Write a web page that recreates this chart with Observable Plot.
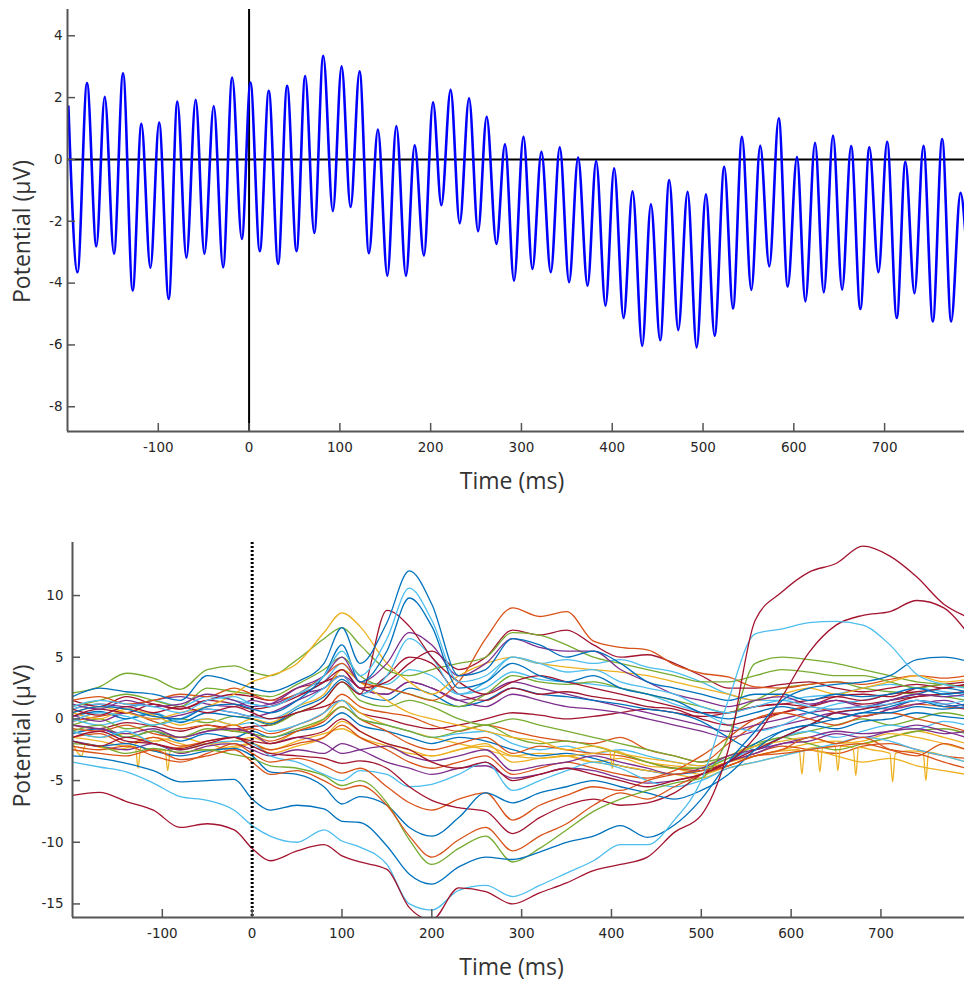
<!DOCTYPE html>
<html><head><meta charset="utf-8">
<script src="https://cdn.jsdelivr.net/npm/d3@7"></script>
<script src="https://cdn.jsdelivr.net/npm/@observablehq/plot@0.6"></script>
<style>
body{margin:0;background:#fff;}
#chart svg{display:block;}
</style>
</head><body><div id="chart"></div>
<script>
// ---------- TOP PANEL DATA (extrema of the averaged waveform) ----------
const topT = [-199,-189,-178.5,-168.2,-159,-148.8,-138.8,-128.2,-118.6,-108.7,-99.1,-88.5,-79,-69,-58.8,-49.2,-38.9,-28.6,-18.6,-8,
  1.5,11.8,21.7,32,41.9,52.3,61.8,71.8,81.7,92.3,101.9,111.8,121.7,132,141.9,152.3,162.2,172.8,182.4,192.6,
  202.6,211.8,222,232,242.3,252.2,261.7,272.4,281.9,291.8,302.2,312.1,322,332.3,342.2,352.5,362.4,372.8,382.3,392.6,
  402.1,412.5,422.4,433,442.6,452.8,462.8,472.7,483,493,503.2,512.8,523.4,533,542.9,553.2,563,573,583.4,593.3,
  603.5,612.7,623.4,633,643.2,653.2,663.1,673.3,683.2,693.2,702.8,713.4,722.9,732.9,742.8,753.1,763.4,773.3,783.6,790];
const topV = [1.71,-3.65,2.47,-2.81,2.03,-3.05,2.79,-4.24,1.15,-3.51,1.19,-4.51,1.87,-3.18,1.93,-3.05,1.73,-3.49,2.65,-2.57,
  2.49,-2.97,2.22,-3.38,2.38,-2.97,2.70,-2.38,3.35,-1.67,3.01,-1.54,2.85,-3.03,0.97,-3.76,1.08,-3.76,0.46,-3.11,
  1.85,-1.48,2.25,-2.06,1.98,-2.32,1.38,-2.73,0.49,-3.92,0.73,-3.54,0.25,-3.65,0.39,-3.97,0.06,-4.08,-0.05,-4.73,
  -0.29,-5.13,-1.03,-6.03,-1.45,-5.85,-0.67,-5.52,-1.05,-6.08,-1.13,-5.70,-0.24,-4.82,0.73,-4.22,0.44,-3.46,1.33,-4.11,
  0.08,-4.59,0.54,-4.30,0.77,-4.21,0.43,-4.84,0.39,-3.65,0.57,-5.13,-0.08,-4.33,0.44,-5.24,0.66,-5.24,-1.08,-2.8];
const topXTicks = [-100,0,100,200,300,400,500,600,700];
const topYTicks = [-8,-6,-4,-2,0,2,4];

// ---------- BOTTOM PANEL DATA (butterfly plot, one array per channel) ----------
const butterflyT = [-200,-170,-140,-110,-80,-50,-20,0,20,50,80,100,120,150,175,200,230,260,290,320,350,380,410,440,470,500,530,560,590,620,650,680,710,740,770,795];
const chR1  = [-6.2,-5.95,-6.7,-7.4,-8.8,-8.5,-9.0,-10.5,-11.5,-10.7,-10.2,-11.1,-11.6,-12.2,-15.3,-16.3,-13.7,-14.0,-15.0,-14.1,-13.3,-12.3,-11.8,-11.2,-9.2,-7.8,-2.5,8.0,10.3,11.9,12.6,14.0,13.2,11.5,9.3,8.3];
const chLB  = [-3.5,-3.9,-4.3,-5.2,-6.3,-6.6,-7.4,-8.65,-9.5,-10.0,-9.0,-9.9,-10.4,-11.8,-15.0,-15.5,-13.9,-13.5,-14.4,-13.5,-12.5,-11.5,-10.2,-10.2,-8.2,-5.0,1.5,6.9,7.3,7.8,7.9,7.6,6.0,3.6,2.8,2.5];
const chBb  = [-3.0,-3.2,-3.6,-4.2,-5.1,-5.0,-4.9,-6.5,-7.4,-7.0,-7.3,-8.3,-8.4,-10.3,-12.6,-13.4,-12.0,-11.2,-11.4,-10.8,-10.0,-9.5,-8.65,-9.6,-8.6,-6.5,-3.5,-1.0,1.5,2.5,2.8,3.0,3.5,4.8,5.0,4.7];
const chM1  = [-2.5,-2.8,-3.0,-2.5,-3.3,-3.0,-2.5,-3.5,-4.5,-4.2,-5.0,-5.7,-5.4,-7.0,-9.5,-11.2,-9.8,-8.8,-10.7,-9.5,-8.5,-7.0,-6.0,-6.5,-5.5,-4.5,-3.8,-3.0,-2.5,-1.5,-2.0,-1.5,-2.5,-3.0,-2.0,-2.5];
const chM2  = [-2.0,-2.2,-2.8,-2.4,-2.7,-2.5,-2.9,-3.2,-3.8,-4.0,-4.6,-5.4,-5.0,-6.8,-9.8,-11.8,-10.5,-9.5,-11.6,-10.5,-9.0,-7.5,-6.5,-5.8,-5.2,-4.8,-1.5,4.5,5.0,4.8,4.5,4.0,3.5,3.0,2.8,2.6];
const chM3  = [-1.8,-2.2,-2.0,-2.6,-3.0,-2.6,-2.4,-3.0,-4.3,-4.5,-5.5,-6.9,-6.3,-7.0,-8.8,-9.5,-8.0,-6.0,-6.8,-6.0,-5.5,-5.0,-5.5,-6.0,-6.5,-5.8,-4.5,-2.5,-1.0,-0.5,0.0,0.5,1.0,1.5,1.0,1.2];
const chM4  = [-1.5,-1.0,-1.8,-2.0,-2.4,-1.8,-1.5,-2.2,-2.8,-3.0,-3.2,-3.6,-3.4,-4.0,-5.5,-6.6,-7.2,-7.5,-9.3,-8.0,-7.0,-6.5,-7.0,-6.8,-6.0,-4.5,-3.5,-2.5,-1.5,-0.5,0.5,0.8,1.2,1.8,2.0,2.2];
const chM5  = [-2.2,-2.5,-2.2,-3.0,-3.5,-2.8,-2.0,-2.8,-3.5,-3.2,-3.8,-4.4,-4.0,-5.5,-6.8,-7.4,-6.5,-6.0,-8.2,-7.0,-6.2,-5.5,-5.8,-5.0,-4.5,-4.2,-3.8,-3.0,-2.8,-2.5,-2.2,-2.0,-2.5,-2.8,-3.5,-4.0];
const chM6  = [-1.0,-1.5,-1.0,-2.0,-2.5,-2.0,-1.8,-2.0,-3.0,-3.5,-4.5,-5.0,-4.2,-4.5,-5.5,-5.3,-4.5,-3.5,-5.8,-5.0,-4.2,-3.5,-4.0,-5.0,-5.5,-5.0,-4.0,-3.5,-3.0,-2.5,-2.0,-1.5,-1.8,-2.5,-3.0,-3.5];
const chM7  = [-0.5,-0.8,-1.2,-0.8,-1.5,-1.0,-0.8,-1.2,-2.0,-1.5,-2.0,-2.8,-2.5,-2.2,-3.0,-3.4,-3.0,-2.5,-4.2,-3.8,-3.5,-3.0,-3.5,-4.0,-4.5,-4.0,-3.0,-2.5,-2.0,-1.5,-1.0,-1.2,-1.0,-0.5,-1.0,-1.5];
const chB1  = [1.8,2.5,2.2,2.0,1.5,3.5,3.0,2.5,2.2,3.0,4.5,7.4,4.5,7.8,12.0,9.3,3.5,4.0,6.5,6.0,5.0,5.5,4.5,3.0,2.5,2.0,1.5,2.0,2.0,1.5,2.0,1.8,2.0,2.5,2.0,2.2];
const chB2  = [1.0,1.5,1.2,1.0,0.5,1.5,1.8,1.2,1.0,2.0,3.5,5.5,3.5,6.5,10.6,8.0,3.0,3.5,5.0,4.5,3.8,4.0,3.0,2.5,2.0,1.0,0.5,1.0,1.5,1.0,0.8,1.0,1.2,1.5,1.2,1.5];
const chB3  = [0.5,1.0,0.8,0.2,0.0,1.0,1.2,0.8,0.5,1.5,3.5,6.0,3.0,5.5,9.8,7.5,2.5,3.0,4.5,3.5,3.0,3.5,2.5,2.0,1.5,0.5,0.0,0.5,1.0,0.5,0.0,0.5,0.5,1.0,0.8,1.0];
const chB4  = [0.8,0.3,1.0,0.5,1.0,0.5,1.0,0.5,0.0,0.5,1.5,3.0,2.0,8.8,7.5,5.0,3.0,2.0,3.0,3.5,3.0,2.5,2.0,1.5,1.0,0.5,0.5,1.0,1.2,1.5,1.8,1.5,2.0,2.2,2.5,2.8];
const chP1  = [1.2,0.8,1.5,1.0,1.2,2.0,1.5,1.0,1.2,2.5,3.5,5.0,3.0,4.5,7.0,6.0,3.5,4.5,6.5,5.8,5.5,5.5,4.0,3.0,2.0,1.5,1.0,1.5,1.8,1.2,1.5,1.0,1.5,2.0,1.8,2.0];
const chY1  = [0.5,1.0,0.5,0.0,0.5,1.0,2.0,3.0,3.5,4.5,7.0,8.6,7.5,4.5,3.0,2.0,3.5,4.5,5.0,4.5,4.2,4.0,3.8,3.5,3.0,2.5,2.0,1.5,2.0,2.5,2.0,2.5,3.0,3.5,3.0,3.2];
const chG1  = [2.1,2.6,3.7,3.3,2.4,4.0,4.3,3.8,3.5,4.8,6.5,7.4,6.0,4.0,3.5,4.0,4.5,5.0,7.0,6.8,6.0,5.0,4.5,4.0,3.5,3.0,3.0,3.5,4.0,3.8,3.5,3.5,3.0,2.5,2.8,2.5];
const chO1  = [1.5,1.8,1.2,1.5,2.0,1.8,2.5,2.0,1.5,2.0,3.5,4.5,3.0,2.5,2.0,1.5,3.0,6.5,9.0,8.3,8.7,6.3,5.8,5.6,4.4,3.7,3.4,2.6,2.5,2.8,3.0,2.8,3.2,3.5,3.3,3.5];
const chR3  = [0.2,0.8,0.5,1.2,0.8,1.5,1.2,0.8,1.0,1.8,3.0,4.0,2.5,3.0,4.5,5.5,4.0,5.0,7.2,6.8,7.2,6.0,5.0,5.2,4.5,3.5,2.5,2.5,2.8,3.0,2.5,2.2,2.5,2.8,2.5,2.8];
const chLB2 = [-0.2,0.5,0.2,-0.5,0.0,0.8,0.5,0.2,0.0,1.0,2.5,3.5,2.0,3.5,6.5,5.0,2.0,3.0,5.0,4.5,4.8,4.5,4.8,4.2,3.8,3.0,2.0,1.5,1.5,1.8,2.0,2.5,2.8,2.5,2.0,1.8];
const chN1  = [-0.5,-0.8,-0.3,-0.6,-1.0,-0.5,-0.8,-0.6,-0.5,0.5,1.0,1.5,0.5,0.0,-0.5,-0.8,-0.5,0.0,0.5,0.3,0.0,0.2,0.5,0.8,0.5,0.2,0.5,1.0,1.2,1.0,1.5,1.2,1.5,1.8,2.0,2.2];
const chN2  = [-0.2,0.2,0.5,-0.2,-0.8,-0.5,-1.0,-0.8,-1.2,-0.5,0.5,2.0,1.0,0.5,0.2,-0.5,-1.0,-0.5,-1.0,-1.5,-1.8,-2.0,-1.5,-2.5,-3.0,-3.5,-2.0,-0.5,0.5,1.0,0.5,0.2,0.8,1.2,1.0,0.8];
const chN3  = [-1.0,-1.5,-1.2,-1.8,-1.5,-2.0,-1.8,-1.5,-2.0,-1.0,0.0,1.5,0.5,-0.5,-1.0,-1.5,-2.0,-2.5,-3.0,-2.8,-3.0,-3.5,-3.2,-3.8,-4.0,-4.5,-3.8,-3.0,-2.5,-2.0,-1.8,-2.0,-1.5,-1.0,-1.5,-2.0];
const chN4  = [0.8,1.2,1.0,1.5,1.8,1.2,1.0,1.5,1.2,2.0,2.5,4.0,2.5,2.0,3.0,2.5,1.5,2.0,3.0,2.5,2.0,1.5,1.0,0.5,0.0,-0.5,-1.0,-0.5,0.0,0.5,0.8,1.0,0.8,1.2,1.5,1.0];
const chN5  = [-0.5,0.0,-0.8,-0.5,0.0,-0.3,0.2,0.0,-0.5,0.5,1.5,3.0,1.5,1.0,1.5,1.0,0.0,-0.5,0.0,-0.5,-1.0,-1.5,-2.0,-2.5,-3.0,-3.5,-3.0,-2.0,-1.5,-1.0,-0.5,0.0,-0.5,0.0,0.5,0.2];
const chN6  = [0.0,-0.5,0.0,0.5,-0.2,0.0,-0.5,-0.3,-1.0,-0.5,0.5,1.5,0.0,-0.5,-1.0,-1.5,-1.2,-1.0,-2.0,-2.5,-2.2,-2.8,-2.5,-3.0,-3.5,-3.8,-3.2,-2.5,-1.5,-1.0,-1.5,-1.0,-0.5,-0.8,-0.2,-0.5];
const chN7  = [-1.2,-0.8,-1.5,-1.0,-1.8,-1.2,-1.5,-1.0,-1.5,-1.0,-0.5,0.5,-0.5,-1.0,-1.5,-2.0,-1.5,-1.8,-2.5,-3.0,-2.8,-3.2,-3.8,-4.2,-4.5,-4.2,-3.5,-2.0,-1.0,-0.5,-0.8,-0.2,0.0,0.5,0.2,0.0];
const chN8  = [1.5,1.0,1.8,1.2,0.8,1.5,2.0,1.8,1.5,2.5,3.0,3.5,2.0,3.5,5.0,4.5,2.0,1.5,2.5,2.0,2.2,1.8,1.5,1.0,0.8,0.0,-0.5,0.0,0.5,1.0,1.8,2.0,1.8,2.5,2.8,3.0];
const chN9  = [-1.5,-1.2,-2.0,-1.5,-2.2,-1.8,-1.5,-2.0,-2.5,-2.0,-1.5,-0.5,-1.5,-2.5,-3.5,-4.0,-3.5,-3.0,-4.5,-4.0,-3.5,-4.0,-4.5,-4.8,-4.2,-3.0,-1.5,0.0,0.5,0.0,-0.5,0.2,0.5,0.0,-0.5,-1.0];
const chN10 = [0.5,0.0,0.8,0.3,-0.5,0.0,-0.5,0.0,-0.3,1.0,2.0,4.0,3.0,1.5,0.5,0.0,-0.5,-1.0,-1.5,-1.8,-2.5,-2.2,-2.8,-3.2,-3.5,-3.8,-3.0,-2.2,-1.8,-1.5,-2.0,-1.8,-1.2,-1.5,-2.0,-2.5];
const chN11 = [1.0,1.5,2.0,1.5,1.0,2.5,2.2,2.0,1.8,2.8,4.0,5.0,3.5,2.5,2.0,1.5,1.0,2.0,3.5,3.0,2.8,3.0,2.5,2.0,1.5,1.0,0.5,1.5,2.5,2.8,3.0,2.5,2.2,2.0,1.8,1.5];
const chN12 = [-1.8,-2.2,-2.5,-2.0,-2.8,-2.2,-2.0,-2.5,-3.0,-2.5,-2.8,-2.0,-2.5,-3.5,-4.0,-4.5,-4.0,-3.8,-4.8,-4.5,-4.0,-4.2,-4.8,-5.2,-5.0,-4.5,-3.5,-2.8,-2.0,-1.8,-1.2,-1.5,-1.0,-0.8,-1.2,-1.0];
const chN13 = [0.2,0.6,0.0,0.4,-0.3,0.5,0.2,0.0,-0.4,0.8,1.8,3.2,2.0,1.5,2.5,2.0,1.0,1.5,2.5,2.0,1.8,1.5,1.2,0.8,0.5,-0.2,-1.5,-2.5,-1.5,-0.5,0.5,0.8,1.5,2.0,2.5,2.2];
const chN14 = [-0.8,-1.0,-0.5,-1.2,-1.5,-1.0,-0.5,-1.2,-1.8,-1.0,-0.2,1.0,0.0,-1.0,-2.0,-2.5,-2.0,-1.5,-2.8,-2.2,-2.5,-2.8,-3.0,-3.5,-4.0,-4.2,-3.5,-2.8,-2.2,-2.5,-2.8,-2.2,-2.0,-2.5,-3.0,-3.2];
const chN15 = [-1.5,-1.8,-2.2,-1.5,-2.0,-2.5,-2.2,-2.0,-2.8,-2.2,-1.5,-0.2,-1.0,-2.0,-2.5,-3.0,-2.5,-2.0,-3.5,-3.2,-3.0,-3.5,-3.8,-4.2,-4.5,-4.8,-4.0,-3.5,-3.0,-2.5,-3.0,-3.5,-3.2,-3.8,-4.2,-4.5];
const chN16 = [0.3,-0.2,0.5,0.0,0.3,0.8,0.5,0.2,0.5,1.5,2.5,3.5,2.5,2.0,3.0,2.5,1.5,1.0,2.0,1.5,1.0,0.8,0.5,0.0,-0.5,-1.0,-1.5,-1.0,-0.5,0.0,0.5,0.2,0.8,1.5,1.2,0.8];
const chN17 = [-1.0,-0.5,-1.5,-1.0,-1.5,-0.8,-1.0,-1.2,-1.5,-0.8,0.0,1.0,0.0,-0.5,-1.0,-1.5,-1.0,-0.5,-1.5,-2.0,-1.8,-2.2,-2.8,-3.5,-4.0,-4.0,-3.2,-2.2,-1.5,-2.0,-2.5,-2.0,-1.5,-1.0,-0.8,-1.2];
const chN18 = [0.8,1.2,0.8,1.5,1.0,1.8,1.5,1.2,1.0,2.0,3.0,4.5,3.0,2.8,4.0,3.5,2.0,2.5,3.8,3.2,3.0,2.8,2.5,2.0,1.2,0.5,-0.5,-1.0,-0.5,0.5,1.2,1.5,2.0,2.5,2.2,2.0];
const chR2  = [-1.8,-2.2,-1.5,-2.0,-2.5,-2.0,-1.5,-1.8,-2.0,-1.5,-1.0,0.0,-1.0,-2.0,-2.5,-3.5,-4.0,-3.5,-5.0,-4.5,-4.0,-4.5,-5.0,-5.5,-5.0,-4.5,-3.5,-1.5,1.8,5.4,7.6,8.4,8.7,9.6,9.0,7.1];
// noisy channel with 50 Hz dips (own sample times)
const spikyT = [-200,-190,-185,-170,-150,-130,-127,-124,-110,-97,-94,-91,-70,-50,-30,-10,0,20,50,80,100,120,150,175,200,230,260,290,320,350,380,398,401,404,420,440,470,500,530,560,590,609,612,615,629,632,635,649,652,655,669,672,675,690,710,713,716,730,747,750,753,770,795];
const spikyV = [-2.0,-3.0,-2.0,-2.3,-2.5,-2.2,-4.0,-2.3,-2.6,-2.5,-4.2,-2.5,-2.2,-2.0,-2.4,-2.2,-2.0,-2.5,-1.8,-1.2,-0.8,-1.5,-2.2,-2.8,-3.0,-2.5,-2.2,-3.0,-3.2,-3.0,-2.8,-2.6,-4.0,-2.6,-3.0,-3.5,-3.8,-4.0,-3.5,-3.0,-2.6,-2.5,-4.5,-2.5,-2.3,-4.3,-2.3,-2.2,-4.2,-2.2,-2.3,-4.6,-2.3,-2.5,-2.8,-5.1,-2.8,-2.6,-2.7,-5.0,-2.7,-3.0,-3.5];
const botXTicks = [-100,0,100,200,300,400,500,600,700];
const botYTicks = [-15,-10,-5,0,5,10];

// ---------- STYLE ----------
const C = {blue:"#0072BD", orange:"#D95319", yellow:"#EDB120", purple:"#7E2F8E", green:"#77AC30", cyan:"#4DBEEE", red:"#A2142F"};
const channelDefs = [
  [chN1,C.red],[chN2,C.orange],[chN3,C.yellow],[chN4,C.purple],[chN5,C.green],[chN6,C.cyan],[chN7,C.blue],
  [chN13,C.blue],[chN14,C.orange],[chN15,C.yellow],[chN16,C.purple],[chN17,C.green],[chN18,C.cyan],
  [chN8,C.red],[chN9,C.orange],[chN10,C.yellow],[chN11,C.green],[chN12,C.purple],
  [chM7,C.purple],[chM6,C.cyan],[chM5,C.orange],[chM4,C.red],[chM3,C.blue],[chM2,C.green],[chM1,C.orange],
  [chLB2,C.cyan],[chR3,C.red],[chO1,C.orange],[chG1,C.green],[chY1,C.yellow],[chP1,C.purple],
  [chB4,C.red],[chB3,C.blue],[chB2,C.cyan],[chB1,C.blue],[chR2,C.red],
  [chBb,C.blue],[chLB,C.cyan],[chR1,C.red]
];
const axisColor = "#555";
const tickFont = "'DejaVu Sans', sans-serif";
const labelFont = "'Open Sans', 'Noto Sans', sans-serif";
const fmt = d => String(d);

const W = 964;
// top layout
const tH = 510, tML = 67, tMT = 9, tMB = 79;
const tPW = W - tML, tPH = tH - tMT - tMB;
const tXdom = [-200, 788], tYdom = [-8.8, 4.85];
// bottom layout
const bH = 473, bML = 72, bMT = 32, bMB = 66;
const bPW = W - bML, bPH = bH - bMT - bMB;
const bXdom = [-200, 793], bYdom = [-16.1, 14.3];

const topRows = topT.map((t, i) => ({t, v: topV[i]}));

function axesMarks(xTicks, yTicks, xdom, ydom, pw, ph, ypad) {
  return [
    Plot.tickY(yTicks, {y: d => d, stroke: axisColor, strokeWidth: 1.5, insetRight: pw - 8}),
    Plot.tickX(xTicks, {x: d => d, stroke: axisColor, strokeWidth: 1.5, insetTop: ph - 8}),
    Plot.ruleX([xdom[0]], {stroke: axisColor, strokeWidth: 2}),
    Plot.ruleY([ydom[0]], {stroke: axisColor, strokeWidth: 2}),
    Plot.axisX(xTicks, {tickSize: 0, tickPadding: 11, label: null, tickFormat: fmt, fill: "#262626", fontSize: 13.5, fontFamily: tickFont}),
    Plot.axisY(yTicks, {tickSize: 0, tickPadding: ypad, label: null, tickFormat: fmt, fill: "#262626", fontSize: 13.5, fontFamily: tickFont})
  ];
}
function labelMarks(ldx, ldy, tdx, tdy) {
  return [
    Plot.text(["Potential (µV)"], {frameAnchor: "left", rotate: -90, dx: ldx, dy: ldy, textAnchor: "middle", lineAnchor: "middle",
      fontSize: 23, fontFamily: labelFont, fill: "#333"}),
    Plot.text(["Time (ms)"], {frameAnchor: "bottom", dx: tdx, dy: tdy, textAnchor: "middle", lineAnchor: "middle",
      fontSize: 23, fontFamily: labelFont, fill: "#333"})
  ];
}
const plotStyle = {background: "white", overflow: "visible", fontFamily: tickFont, fontSize: "13.5px"};

const topPlot = Plot.plot({
  width: W, height: tH, marginLeft: tML, marginRight: 0, marginTop: tMT, marginBottom: tMB,
  x: {domain: tXdom, axis: null}, y: {domain: tYdom, axis: null},
  style: plotStyle,
  marks: [
    Plot.ruleY([0], {stroke: "black", strokeWidth: 2}),
    Plot.ruleX([0], {stroke: "black", strokeWidth: 2}),
    Plot.line(topRows, {x: "t", y: "v", curve: "monotone-x", stroke: "#0000ff", strokeWidth: 2.6, clip: true}),
    ...axesMarks(topXTicks, topYTicks, tXdom, tYdom, tPW, tPH, 5),
    ...labelMarks(-45, 11, -4, 50)
  ]
});

const botMarks = channelDefs.map(([vals, col]) =>
  Plot.line(vals.map((v, j) => ({t: butterflyT[j], v})), {x: "t", y: "v", curve: "monotone-x", stroke: col, strokeWidth: 1.3, clip: true})
);
botMarks.splice(10, 0, Plot.line(spikyT.map((t, i) => ({t, v: spikyV[i]})), {x: "t", y: "v", curve: "monotone-x", stroke: C.yellow, strokeWidth: 1.3, clip: true}));

const botPlot = Plot.plot({
  width: W, height: bH, marginLeft: bML, marginRight: 0, marginTop: bMT, marginBottom: bMB,
  x: {domain: bXdom, axis: null}, y: {domain: bYdom, axis: null},
  style: plotStyle,
  marks: [
    ...botMarks,
    Plot.ruleX([0], {stroke: "black", strokeWidth: 3, strokeDasharray: "2,2"}),
    ...axesMarks(botXTicks, botYTicks, bXdom, bYdom, bPW, bPH, 9),
    ...labelMarks(-50, 6, -7, 50)
  ]
});

const el = document.getElementById("chart");
el.appendChild(topPlot);
el.appendChild(botPlot);
</script></body></html>
